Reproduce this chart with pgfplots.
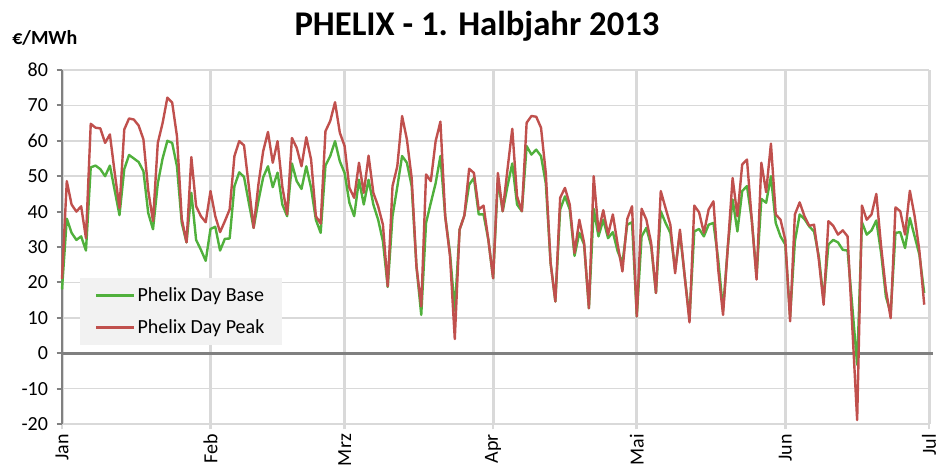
\documentclass[border=0pt]{standalone}
\usepackage{fontspec}
\setmainfont{Carlito}
\usepackage{pgfplots}
\usepackage{pgfplotstable}
\pgfplotsset{compat=1.18}
\definecolor{gbase}{RGB}{80,176,60}
\definecolor{rpeak}{RGB}{192,80,77}
\definecolor{gridc}{RGB}{217,217,217}
\definecolor{axc}{RGB}{128,128,128}
\definecolor{legbg}{RGB}{242,242,242}
\pgfplotstableread{
d G R
0 18 21
1 38 48.6
2 34 42
3 32 40
4 33 41.5
5 29 32.5
6 52.5 64.8
7 53 63.7
8 52 63.5
9 50 59.4
10 53 61.8
11 46 51
12 39 41
13 52 63.2
14 56 66.3
15 55 66
16 54 64.3
17 51.4 60.4
18 39.6 46
19 35 37.3
20 48 59.4
21 55 65
22 60 72.2
23 59.4 70.8
24 52.8 61.3
25 36.8 38
26 31.3 31.3
27 45.3 55.4
28 32 41.5
29 29.2 38.7
30 26.1 37
31 35.1 45.8
32 35.7 38.7
33 29 34.2
34 32.3 37.3
35 32.4 40.6
36 47.2 55.7
37 51.1 59.9
38 49.8 58.7
39 42.5 47.2
40 35.4 35.4
41 43 47.6
42 49.7 57.1
43 52.8 62.5
44 46.9 53.8
45 51 59.9
46 42 47
47 38.7 39.2
48 53.6 60.8
49 48.6 58
50 46.4 52.8
51 52.8 61
52 46.7 54.7
53 37.7 38.7
54 34 36.6
55 53 62.7
56 55.7 65.6
57 59.9 70.9
58 54.2 62.3
59 50.9 58.5
60 42.5 46.7
61 38.7 43.9
62 49 53.8
63 42 45.3
64 49 55.8
65 42 45.3
66 37.7 41.5
67 31.6 36.3
68 18.7 18.9
69 38.7 47.2
70 47 52.8
71 55.7 67
72 53.8 60.4
73 47.2 49.5
74 24.5 24.5
75 10.8 13.2
76 36.8 50.5
77 42.5 48.6
78 48 59.9
79 55.7 65.4
80 38.7 38.7
81 28.3 27.4
82 12 4
83 34.9 34.9
84 38.9 38.9
85 47.6 52.1
86 49.5 50.9
87 39.2 40.6
88 39.2 41.7
89 32.1 32.1
90 21.2 21.2
91 49 50.9
92 40.1 40.1
93 47.2 51.9
94 53.6 63.4
95 42 44.3
96 40.1 40.1
97 58.5 65.1
98 56.1 67
99 57.5 66.8
100 55.7 63.7
101 48 50.9
102 25.5 25.5
103 14.6 14.6
104 40.6 43.9
105 44.3 46.7
106 40.6 42
107 27.5 28.3
108 34 37.7
109 30.7 31.1
110 12.7 12.7
111 40.8 50
112 33 34.4
113 37.7 40.4
114 32.5 33.5
115 34.2 39.2
116 28.8 30.7
117 25.5 23.1
118 36.3 37.9
119 37 41.5
120 10.4 10.4
121 33 40.8
122 35.4 37.7
123 30.2 31.1
124 17 17
125 40.1 45.8
126 36.8 41
127 34 36.3
128 23.6 22.6
129 34 34.9
130 21.7 21.7
131 9.9 8.7
132 34.4 41.7
133 35.1 39.8
134 33 34
135 36.3 40.6
136 36.8 42.9
137 26.4 23.6
138 12.3 10.8
139 30 30
140 43.4 49.5
141 34.4 38.7
142 45.8 53.3
143 47.2 54.7
144 37.7 37.7
145 21.7 20.8
146 43.6 53.8
147 42.5 45.5
148 50 59.2
149 36.8 39.2
150 33 37.7
151 30.7 32
152 10.4 9
153 31.6 39.2
154 39.2 42.6
155 37.9 38.7
156 35.8 36
157 34.4 36.3
158 27.4 26.4
159 15 13.7
160 30.7 37.3
161 32 36
162 31.3 33.5
163 29.2 34.7
164 29 33
165 13 7
166 -3.3 -18.9
167 37 41.7
168 33.5 37.7
169 34.7 39.2
170 37.5 45
171 28.3 30.2
172 16 17.9
173 11.3 9.9
174 34 41.2
175 34.2 40.1
176 29.7 33.5
177 38.2 45.9
178 33 38.7
179 27.8 28.8
180 17 13.7
}\data
\begin{document}
\begin{tikzpicture}
\begin{axis}[
  at={(46.5pt,33pt)}, anchor=south west,
  scale only axis, width=650.25pt, height=265.5pt,
  xmin=0, xmax=181, ymin=-20, ymax=80,
  xtick={0,31,59,90,120,151,181},
  xticklabels={Jan,Feb,Mrz,Apr,Mai,Jun,Jul},
  ytick={-20,-10,...,80},
  xmajorgrids, ymajorgrids,
  x grid style={gridc, line width=2.25pt},
  y grid style={gridc, line width=1.3pt},
  axis line style={draw=none},
  tick align=outside,
  xtick pos=bottom, ytick pos=left,
  major tick length=4pt,
  x tick style={gridc, line width=2pt},
  y tick style={axc, line width=1.5pt},
  tick label style={font=\fontsize{15}{18}\selectfont, text=black},
  /pgf/number format/assume math mode=true,
  yticklabel style={xshift=-3pt},
  xticklabel style={rotate=90, anchor=east},
  legend style={at={(0.021,0.412)}, anchor=north west, fill=legbg, draw=none,
    font=\fontsize{15}{18}\selectfont, inner xsep=11pt, inner ysep=5pt,
    row sep=8pt, cells={anchor=west}},
  legend image code/.code={\draw[#1, line width=1.8pt] (0pt,0pt) -- (28pt,0pt);},
  clip=false,
]
\draw[axc, line width=2.25pt] (rel axis cs:0,0.2) -- (rel axis cs:1.005,0.2);
\draw[axc, line width=2pt] (rel axis cs:0,0) -- (rel axis cs:0,1);
\addplot[gbase, line width=1.8pt, line join=round, mark=none] table[x=d, y=G] {\data};
\addlegendentry{Phelix Day Base}
\addplot[rpeak, line width=1.8pt, line join=round, mark=none] table[x=d, y=R] {\data};
\addlegendentry{Phelix Day Peak}
\end{axis}
\node[font=\fontsize{26}{30}\selectfont\bfseries, anchor=base] at (357.75pt,324pt) {PHELIX - 1. Halbjahr 2013};
\node[font=\fontsize{15}{18}\selectfont\bfseries, anchor=base west, inner sep=0pt] at (9pt,317.25pt) {€/MWh};
\pgfresetboundingbox
\path[use as bounding box] (0,0) rectangle (711.75pt,351pt);
\end{tikzpicture}
\end{document}
